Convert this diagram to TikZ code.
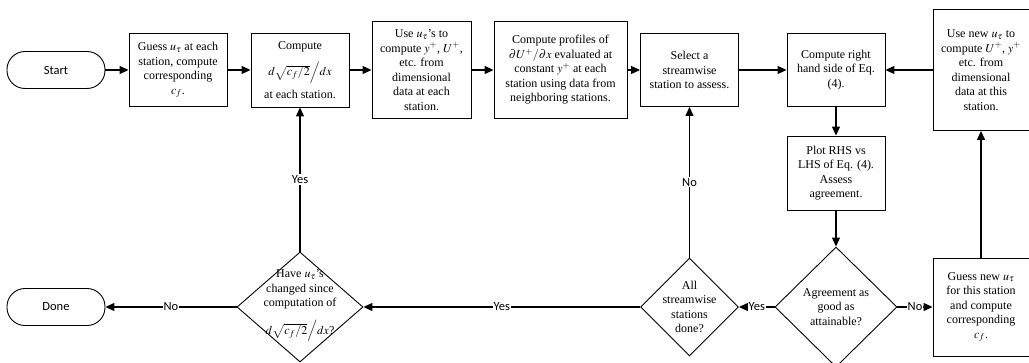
\documentclass[tikz,border=0pt]{standalone}
\usepackage{mathptmx}
\usepackage{fontspec}
\setmainfont{Liberation Serif}
\setsansfont{Carlito}
\usetikzlibrary{shapes.geometric,arrows.meta}

\begin{document}
\begin{tikzpicture}[x=1pt,y=-1pt,
  box/.style={draw,line width=0.9pt,align=center,inner sep=1pt,font=\fontsize{12}{14.5}\selectfont},
  term/.style={draw,line width=0.9pt,rounded corners=18pt,minimum width=98pt,minimum height=37pt,font=\sffamily\fontsize{12.5}{14}\selectfont},
  dec/.style={draw,diamond,line width=0.9pt,inner sep=0pt},
  txt/.style={align=center,font=\fontsize{12}{14.5}\selectfont},
  lab/.style={fill=white,inner sep=1pt,font=\sffamily\fontsize{12.5}{14}\selectfont},
  flow/.style={line width=1.2pt,-{Triangle[length=9pt,width=8pt]}}]
  \useasboundingbox (0,0) rectangle (1029,363);
  \def\slope{$d\sqrt{c_f/2}\Big/dx$}
  % top row
  \node[term] (start) at (56,70) {Start};
  \node[box,minimum width=98pt,minimum height=73pt] (guess) at (178,70)
    {Guess $u_\tau$ at each\\station, compute\\corresponding\\$c_f$.};
  \node[box,minimum width=98pt,minimum height=74pt] (grad) at (300,70)
    {Compute\\[9pt]\slope\\[5pt]at each station.};
  \node[box,minimum width=99pt,minimum height=97pt] (scale) at (421.5,70)
    {Use $u_\tau$'s to\\compute $y^+$, $U^+$,\\etc. from\\dimensional\\data at each\\station.};
  \node[box,minimum width=133pt,minimum height=97pt] (prof) at (560.5,70)
    {Compute profiles of\\$\partial U^+/\partial x$ evaluated at\\constant $y^+$ at each\\station using data from\\neighboring stations.};
  \node[box,minimum width=98pt,minimum height=73pt] (select) at (689.5,70)
    {Select a\\streamwise\\station to assess.};
  \node[box,minimum width=98pt,minimum height=73pt] (rhs) at (836,70)
    {Compute right\\hand side of Eq.\\(4).};
  \node[box,minimum width=96pt,minimum height=121pt] (newscale) at (981,70)
    {Use new $u_\tau$ to\\compute $U^+$, $y^+$\\etc. from\\dimensional\\data at this\\station.};
  \node[box,minimum width=98pt,minimum height=74pt] (plot) at (836,173)
    {Plot RHS vs\\LHS of Eq. (4).\\Assess\\agreement.};
  % bottom row
  \node[dec,minimum width=122pt,minimum height=120pt] (agree) at (836,307) {};
  \node[txt] (agreetext) at (agree) {Agreement as\\good as\\attainable?};
  \node[box,minimum width=96pt,minimum height=98pt] (newguess) at (981,307)
    {Guess new $u_\tau$\\for this station\\and compute\\corresponding\\$c_f$.};
  \node[dec,minimum width=98pt,minimum height=98pt] (all) at (689.5,307) {};
  \node[txt] (alltext) at (all) {All\\streamwise\\stations\\done?};
  \node[dec,minimum width=126pt,minimum height=110pt] (have) at (300,307) {};
  \node[txt] (havetext) at (300,306) {Have $u_\tau$'s\\changed since\\computation of\\[10pt]\slope?};
  \node[term] (done) at (56,307) {Done};
  % connectors
  \draw[flow] (start) -- (guess);
  \draw[flow] (guess) -- (grad);
  \draw[flow] (grad) -- (scale);
  \draw[flow] (scale) -- (prof);
  \draw[flow] (prof) -- (select);
  \draw[flow] (select) -- (rhs);
  \draw[flow] (newscale) -- (rhs);
  \draw[flow] (rhs) -- (plot);
  \draw[flow] (plot) -- (agree);
  \draw[flow] (agree) -- node[lab] {Yes} (all);
  \draw[flow] (agree) -- node[lab] {No} (newguess);
  \draw[flow] (newguess) -- (newscale);
  \draw[flow] (all) -- node[lab] {No} (select);
  \draw[flow] (all) -- node[lab] {Yes} (have);
  \draw[flow] (have) -- node[lab] {Yes} (grad);
  \draw[flow] (have) -- node[lab] {No} (done);
\end{tikzpicture}
\end{document}
